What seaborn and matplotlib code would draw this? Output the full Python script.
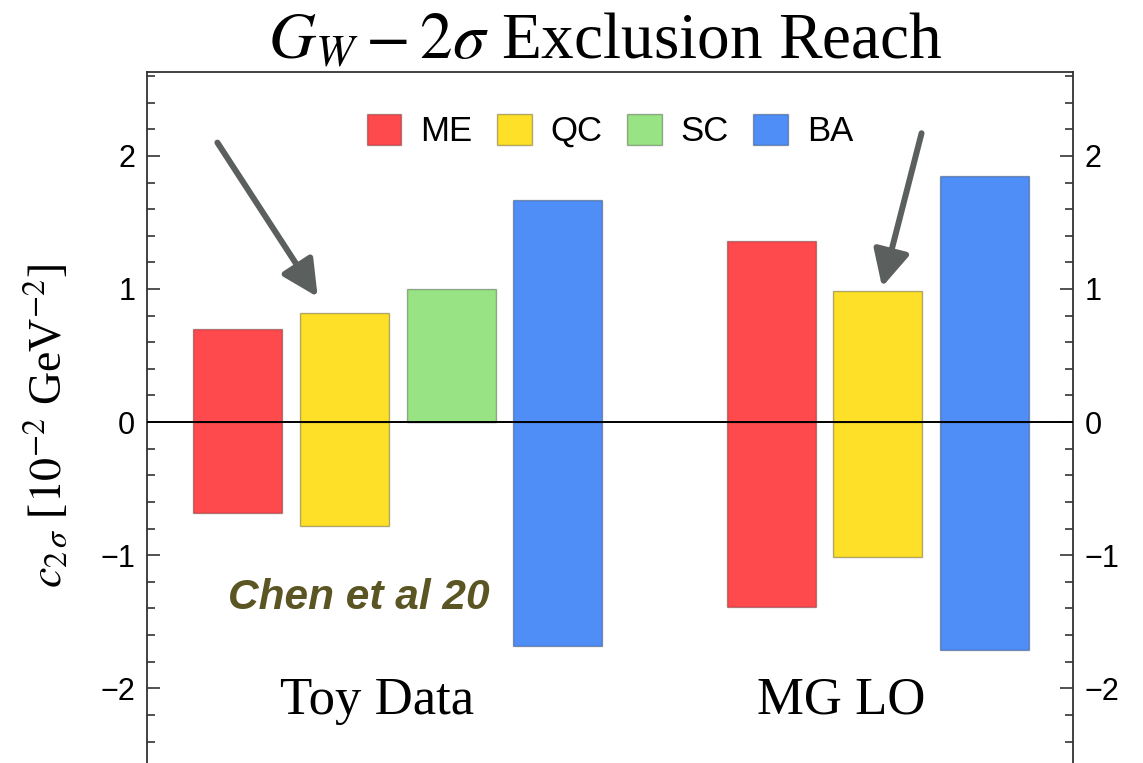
import matplotlib
matplotlib.use("Agg")
import matplotlib.pyplot as plt
import seaborn as sns
import pandas as pd
from matplotlib.ticker import MultipleLocator, AutoMinorLocator

# dados: alcance de exclusao 2 sigma (limites superior e inferior)
grupos = ["Toy Data", "MG LO"]
metodos = ["ME", "QC", "SC", "BA"]
toy_metodos = ["ME", "QC", "SC", "BA"]
toy_sup = [0.70, 0.82, 1.00, 1.67]
toy_inf = [-0.68, -0.78, 0.00, -1.68]
mg_metodos = ["ME", "QC", "BA"]
mg_sup = [1.36, 0.985, 1.85]
mg_inf = [-1.39, -1.01, -1.71]

cores = {"ME": "#FF4A4D", "QC": "#FDE027", "SC": "#98E384", "BA": "#4F8EF6"}

# posicoes: um espaco vazio entre os dois grupos
linhas = []
pos = 0
for nome, mets, sup, inf in [(grupos[0], toy_metodos, toy_sup, toy_inf),
                             (grupos[1], mg_metodos, mg_sup, mg_inf)]:
    for m, s, i in zip(mets, sup, inf):
        linhas.append({"grupo": nome, "metodo": m, "pos": pos, "sup": s, "inf": i})
        pos += 1
    pos += 1
df = pd.DataFrame(linhas)

sns.set_theme(style="ticks")
plt.rcParams["font.family"] = ["Liberation Sans", "DejaVu Sans"]
plt.rcParams["mathtext.fontset"] = "stix"
plt.rcParams["text.color"] = "black"

fig = plt.figure(figsize=(11.43, 7.63), dpi=100)
ax = fig.add_axes([0.1286, -0.012, 0.8102, 0.9176])

sns.barplot(data=df, x="pos", y="sup", hue="metodo", hue_order=metodos,
            palette=cores, saturation=1, native_scale=True, dodge=False, width=0.835,
            edgecolor=(0, 0, 0, 0.3), linewidth=1, ax=ax)
sns.barplot(data=df, x="pos", y="inf", hue="metodo", hue_order=metodos,
            palette=cores, saturation=1, native_scale=True, dodge=False, width=0.835,
            edgecolor=(0, 0, 0, 0.3), linewidth=1, legend=False, ax=ax)

ax.axhline(0, color="black", lw=1.4, zorder=5)
ax.set_xlim(-0.85, 7.83)
ax.set_ylim(-2.63, 2.63)
ax.set_xticks([])
ax.set_xlabel("")
ax.yaxis.set_major_locator(MultipleLocator(1))
ax.yaxis.set_minor_locator(AutoMinorLocator(5))
ax.tick_params(which="both", direction="in", left=True, right=True,
               labelleft=True, labelright=True, colors="#333333",
               labelcolor="black", labelsize=22, pad=8.5, width=1.2)
ax.tick_params(which="major", length=9.5)
ax.tick_params(which="minor", length=6)
for s in ax.spines.values():
    s.set_color("#333333")
    s.set_linewidth(1.3)

ax.set_ylabel(r"$c_{2\,\sigma}$ [$10^{-2}$ GeV$^{-2}$]", family="Liberation Serif",
              fontsize=33, color="black")
ax.yaxis.set_label_coords(-0.081, 0.495)
fig.text(0.53, 0.945, r"$G_W - 2\sigma$ Exclusion Reach", family="Liberation Serif",
         fontsize=47, ha="center", va="center")

# rotulos dos grupos
ax.text(1.31, -2.19, grupos[0], family="Liberation Serif", fontsize=38, ha="center", va="baseline")
ax.text(5.66, -2.19, grupos[1], family="Liberation Serif", fontsize=38, ha="center", va="baseline")
ax.text(-0.09, -1.32, "Chen et al 20", fontsize=30.5, fontweight="bold", fontstyle="italic",
        color="#5A5522", ha="left", va="center")

# setas
seta = dict(arrowstyle="-|>", color="#5B5F5E", lw=4.3, mutation_scale=55, shrinkA=0, shrinkB=0)
ax.annotate("", xy=(0.75, 0.94), xytext=(-0.19, 2.10), arrowprops=seta)
ax.annotate("", xy=(6.04, 1.015), xytext=(6.41, 2.17), arrowprops=seta)

sns.move_legend(ax, "center", bbox_to_anchor=(0.5, 0.916), ncol=4, frameon=False,
                title=None, fontsize=25, handlelength=1.0, handleheight=1.0,
                handletextpad=0.55, columnspacing=0.7)

fig.savefig("out.png", dpi=100)
